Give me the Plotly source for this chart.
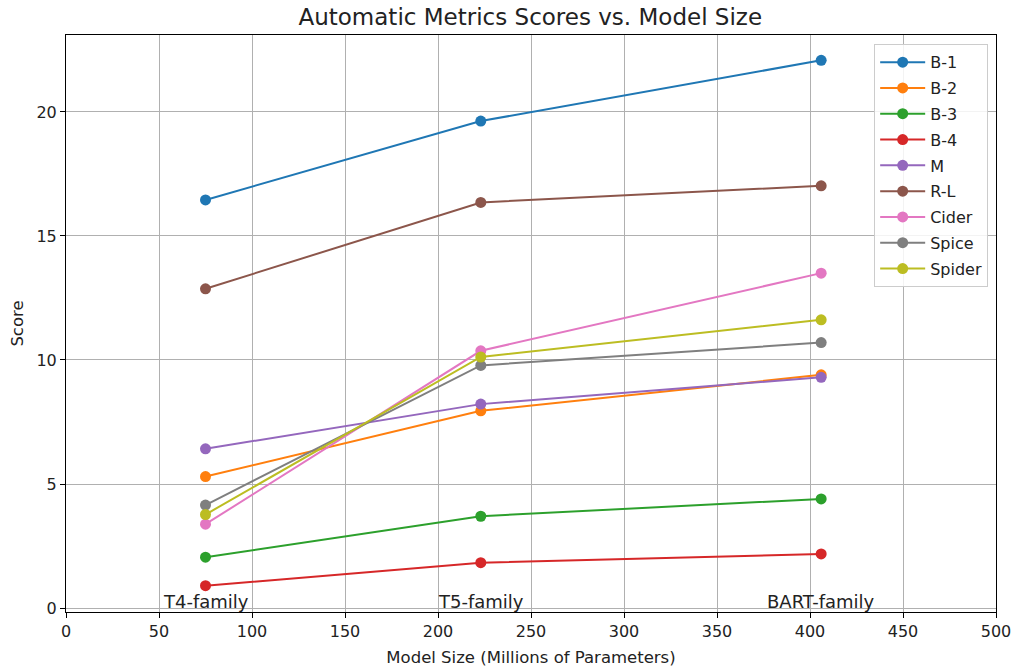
import plotly.graph_objects as go

model_sizes = [75, 223, 406]
family_labels = ["T4-family", "T5-family", "BART-family"]
metrics = ["B-1", "B-2", "B-3", "B-4", "M", "R-L", "Cider", "Spice", "Spider"]
b1 = [16.45, 19.63, 22.08]
b2 = [5.3, 7.95, 9.4]
b3 = [2.05, 3.7, 4.4]
b4 = [0.9, 1.83, 2.18]
m = [6.42, 8.22, 9.3]
rl = [12.87, 16.35, 17.02]
cider = [3.38, 10.37, 13.5]
spice = [4.15, 9.78, 10.7]
spider = [3.77, 10.12, 11.62]
series = [b1, b2, b3, b4, m, rl, cider, spice, spider]
colors = ["#1f77b4", "#ff7f0e", "#2ca02c", "#d62728", "#9467bd",
          "#8c564b", "#e377c2", "#7f7f7f", "#bcbd22"]

fig = go.Figure()
for name, vals, c in zip(metrics, series, colors):
    fig.add_trace(go.Scatter(
        x=model_sizes, y=vals, mode="lines+markers", name=name,
        legendgroup=name,
        line=dict(color=c, width=2),
        marker=dict(color=c, size=11),
    ))

for xv, lab in zip(model_sizes, family_labels):
    fig.add_annotation(x=xv, y=0, text=lab, showarrow=False,
                       xanchor="center", yanchor="bottom", yshift=-6,
                       font=dict(size=18, color="#222"))

axis_common = dict(
    showgrid=True, gridcolor="#b0b0b0", gridwidth=1,
    showline=True, linecolor="black", linewidth=1, mirror=True,
    ticks="outside", ticklen=5, tickcolor="black",
    zeroline=False, tickfont=dict(size=16, color="#222"),
    automargin=False, ticklabeloverflow="allow",
)
fig.update_xaxes(range=[0, 500], dtick=50, tick0=0,
                 title=dict(text="Model Size (Millions of Parameters)", font=dict(size=16.5, color="#222"), standoff=11),
                 **axis_common)
fig.update_yaxes(range=[-0.16, 23.1], dtick=5, tick0=0,
                 title=dict(text="Score", font=dict(size=16.5, color="#222"), standoff=8),
                 **axis_common)

fig.update_layout(
    width=1011, height=669,
    margin=dict(l=66, r=15, t=35, b=57),
    paper_bgcolor="white", plot_bgcolor="white",
    font=dict(family="DejaVu Sans", color="#222"),
    title=dict(text="Automatic Metrics Scores vs. Model Size", x=0.5245, xanchor="center",
               xref="container", yref="container",
               y=0.974, yanchor="middle", font=dict(size=23, color="#222")),
    legend=dict(x=0.869, y=0.984, xanchor="left", yanchor="top",
                bordercolor="#cccccc", borderwidth=1, bgcolor="rgba(255,255,255,0.85)",
                font=dict(size=16, color="#222"), traceorder="grouped", tracegroupgap=2,
                itemwidth=45),
    showlegend=True,
)

fig.write_html("out.html", config={"displayModeBar": False},
               post_script="document.body.style.margin='0';")
